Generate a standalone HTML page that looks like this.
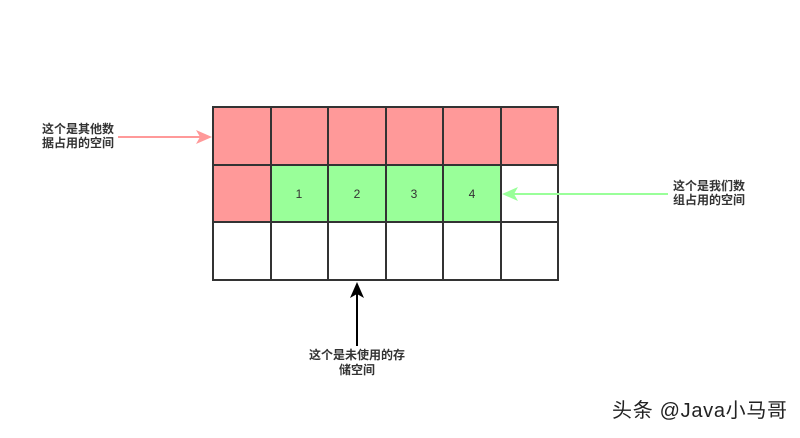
<!DOCTYPE html>
<html><head><meta charset="utf-8"><style>
body{margin:0;background:#fff;}
svg text{font-family:"Liberation Sans","Noto Sans CJK SC",sans-serif;}
</style></head><body>
<svg width="800" height="433" xmlns="http://www.w3.org/2000/svg">
<rect width="800" height="433" fill="#fff"/>
<g stroke="#333" stroke-width="2">
<rect x="213" y="107" width="58" height="58" fill="#ff9999"/>
<rect x="271" y="107" width="57" height="58" fill="#ff9999"/>
<rect x="328" y="107" width="58" height="58" fill="#ff9999"/>
<rect x="386" y="107" width="57" height="58" fill="#ff9999"/>
<rect x="443" y="107" width="58" height="58" fill="#ff9999"/>
<rect x="501" y="107" width="57" height="58" fill="#ff9999"/>
<rect x="213" y="165" width="58" height="57" fill="#ff9999"/>
<rect x="271" y="165" width="57" height="57" fill="#99ff99"/>
<rect x="328" y="165" width="58" height="57" fill="#99ff99"/>
<rect x="386" y="165" width="57" height="57" fill="#99ff99"/>
<rect x="443" y="165" width="58" height="57" fill="#99ff99"/>
<rect x="501" y="165" width="57" height="57" fill="#fff"/>
<rect x="213" y="222" width="58" height="58" fill="#fff"/>
<rect x="271" y="222" width="57" height="58" fill="#fff"/>
<rect x="328" y="222" width="58" height="58" fill="#fff"/>
<rect x="386" y="222" width="57" height="58" fill="#fff"/>
<rect x="443" y="222" width="58" height="58" fill="#fff"/>
<rect x="501" y="222" width="57" height="58" fill="#fff"/>
</g>
<g font-size="12" fill="#333" text-anchor="middle">
<text x="299" y="198">1</text><text x="357" y="198">2</text><text x="414" y="198">3</text><text x="472" y="198">4</text>
</g>
<line x1="118" y1="137" x2="200" y2="137" stroke="#ff9999" stroke-width="2"/>
<polygon points="212,137 196,130 200,137 196,144" fill="#ff9999"/>
<line x1="668" y1="194" x2="514" y2="194" stroke="#99ff99" stroke-width="2"/>
<polygon points="502,194 518,187 514,194 518,201" fill="#99ff99"/>
<line x1="357" y1="346" x2="357" y2="294" stroke="#000" stroke-width="2"/>
<polygon points="357,282 350,298 357,294 364,298" fill="#000"/>
<g font-size="12" font-weight="bold" fill="#333">
<text x="42" y="133">这个是其他数</text><text x="42" y="147">据占用的空间</text>
<text x="673" y="190">这个是我们数</text><text x="673" y="204">组占用的空间</text>
<text x="357" y="359" text-anchor="middle">这个是未使用的存</text><text x="357" y="374" text-anchor="middle">储空间</text>
</g>
<text x="612" y="417" font-size="20" fill="#222" textLength="175">头条 @Java小马哥</text>
</svg>
</body></html>
